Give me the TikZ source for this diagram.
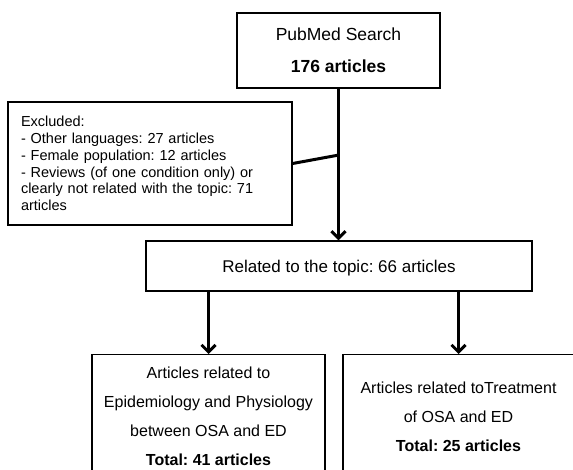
\documentclass[tikz,border=0pt]{standalone}
\usepackage{fontspec}
\setmainfont{Liberation Sans}
\usetikzlibrary{arrows.meta}
\frenchspacing

\tikzset{
  box/.style={draw,line width=1.3pt,rectangle,align=center},
  link/.style={line width=3pt},
}

\begin{document}
\begin{tikzpicture}[x=1pt,y=-1pt,>={Straight Barb[length=7pt,width=14pt]}]
        \useasboundingbox (0,0) rectangle (573,470);
        % boxes
        \node[box,minimum width=203pt,minimum height=75pt,font=\fontsize{17.5}{32}\selectfont] (pub) at (338.5,50.5) {PubMed Search\\\textbf{176 articles}};
        \node[box,align=left,text width=258pt,inner xsep=13pt,minimum width=284pt,minimum height=123pt,font=\fontsize{14.5}{16.8}\selectfont] (excl) at (150,163.5) {Excluded:\\- Other languages: 27 articles\\- Female population: 12 articles\\- Reviews (of one condition only) or\\clearly not related with the topic: 71\\articles};
        \node[box,minimum width=386pt,minimum height=50pt,text depth=0pt,font=\fontsize{17}{20}\selectfont] (rel) at (339,266) {Related to the topic: 66 articles};
        \node[box,anchor=north,minimum width=233pt,inner ysep=12pt,font=\fontsize{16}{29}\selectfont] (epi) at (208.5,354) {Articles related to\\Epidemiology and Physiology\\between OSA and ED\\\textbf{Total: 41 articles}};
        \node[box,anchor=north,minimum width=231pt,inner ysep=27pt,font=\fontsize{16}{29}\selectfont] (treat) at (458.5,354) {Articles related toTreatment\\of OSA and ED\\\textbf{Total: 25 articles}};
        % connectors
        \coordinate (jn) at (339,155);
        \draw[link,->] (pub.south) -- (pub.south |- rel.north);
        \draw[link] (excl.east) -- (jn);
        \draw[link,->] (rel.south -| epi.north) -- (epi.north);
        \draw[link,->] (rel.south -| treat.north) -- (treat.north);
\end{tikzpicture}
\end{document}
